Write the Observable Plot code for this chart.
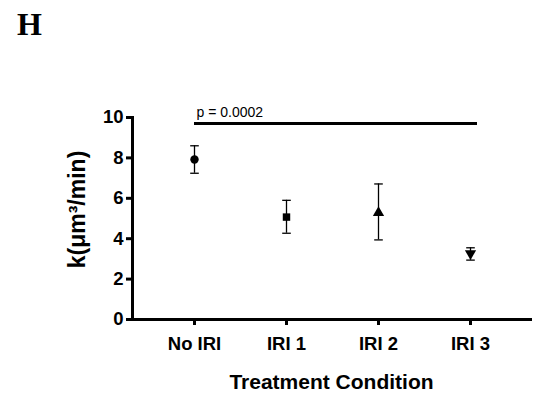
<!DOCTYPE html>
<html><head><meta charset="utf-8">
<script src="https://cdn.jsdelivr.net/npm/d3@7"></script>
<script src="https://cdn.jsdelivr.net/npm/@observablehq/plot@0.6"></script>
<style>body{margin:0;background:#fff;}</style>
</head><body><div id="chart"></div>
<script>
const conditions = ["No IRI", "IRI 1", "IRI 2", "IRI 3"];
const means = [7.92, 5.07, 5.28, 3.27];
const upper = [8.6, 5.9, 6.71, 3.55];
const lower = [7.24, 4.27, 3.94, 2.94];
const symbols = ["circle", "square", "triangle", "triangle"];
const rotations = [0, 0, 0, 180];
const yTicks = [0, 2, 4, 6, 8, 10];
const sigFrom = "No IRI", sigTo = "IRI 3", sigY = 9.7, sigLabel = "p = 0.0002";
const yLabel = "k(μm³/min)";
const xLabel = "Treatment Condition";
const panelLabel = "H";

const data = conditions.map((c, i) => ({c, m: means[i], hi: upper[i], lo: lower[i], s: symbols[i], r: rotations[i]}));
const sig = [{a: sigFrom, b: sigTo, y: sigY, t: sigLabel}];
const cap = {draw(ctx, size) { const r = Math.sqrt(size / Math.PI); ctx.moveTo(-r, 0); ctx.lineTo(r, 0); }};

const plot = Plot.plot({
  width: 539, height: 402,
  marginLeft: 132, marginRight: 7, marginTop: 117, marginBottom: 83,
  style: {fontFamily: "'Liberation Sans', Arial, sans-serif", color: "#000", background: "#fff", overflow: "visible"},
  x: {type: "point", domain: conditions, padding: 0.67, label: null},
  y: {domain: [0, 10], label: null},
  symbol: {type: "identity"},
  marks: [
    Plot.axisY({ticks: yTicks, tickSize: 6, tickPadding: 3, strokeWidth: 3, fontSize: 18.5, fontWeight: "bold", label: null}),
    Plot.axisX({tickSize: 6, tickPadding: 11, strokeWidth: 3, fontSize: 18.5, fontWeight: "bold", label: null}),
    Plot.frame({anchor: "left", strokeWidth: 3}),
    Plot.ruleY([0], {strokeWidth: 3}),
    Plot.ruleX(data, {x: "c", y1: "lo", y2: "hi", strokeWidth: 1.3}),
    Plot.dot(data, {x: "c", y: "hi", symbol: cap, r: 4.3, stroke: "black", strokeWidth: 1.3}),
    Plot.dot(data, {x: "c", y: "lo", symbol: cap, r: 4.3, stroke: "black", strokeWidth: 1.3}),
    Plot.dot(data, {x: "c", y: "m", symbol: "s", rotate: "r", r: 4.2, fill: "black", stroke: null}),
    Plot.ruleY(sig, {y: "y", x1: "a", x2: "b", strokeWidth: 3, insetRight: -7}),
    Plot.text(sig, {x: "a", y: "y", text: "t", textAnchor: "start", lineAnchor: "bottom", dy: -7, dx: 2, fontSize: 14}),
    Plot.text([yLabel], {text: d => d, frameAnchor: "left", textAnchor: "middle", lineAnchor: "middle", rotate: -90, dx: -54.5, dy: -9, fontSize: 23, fontWeight: "bold"}),
    Plot.text([xLabel], {text: d => d, frameAnchor: "bottom", textAnchor: "middle", dy: 69, dx: -1, lineAnchor: "bottom", fontSize: 21, fontWeight: "bold"}),
    Plot.text([panelLabel], {text: d => d, frameAnchor: "top-left", dx: -115.5, dy: -83, textAnchor: "start", lineAnchor: "bottom", fontSize: 32, fontWeight: "bold", fontFamily: "'Liberation Serif', 'Times New Roman', serif"})
  ]
});
document.getElementById("chart").appendChild(plot);
</script>
</body></html>
